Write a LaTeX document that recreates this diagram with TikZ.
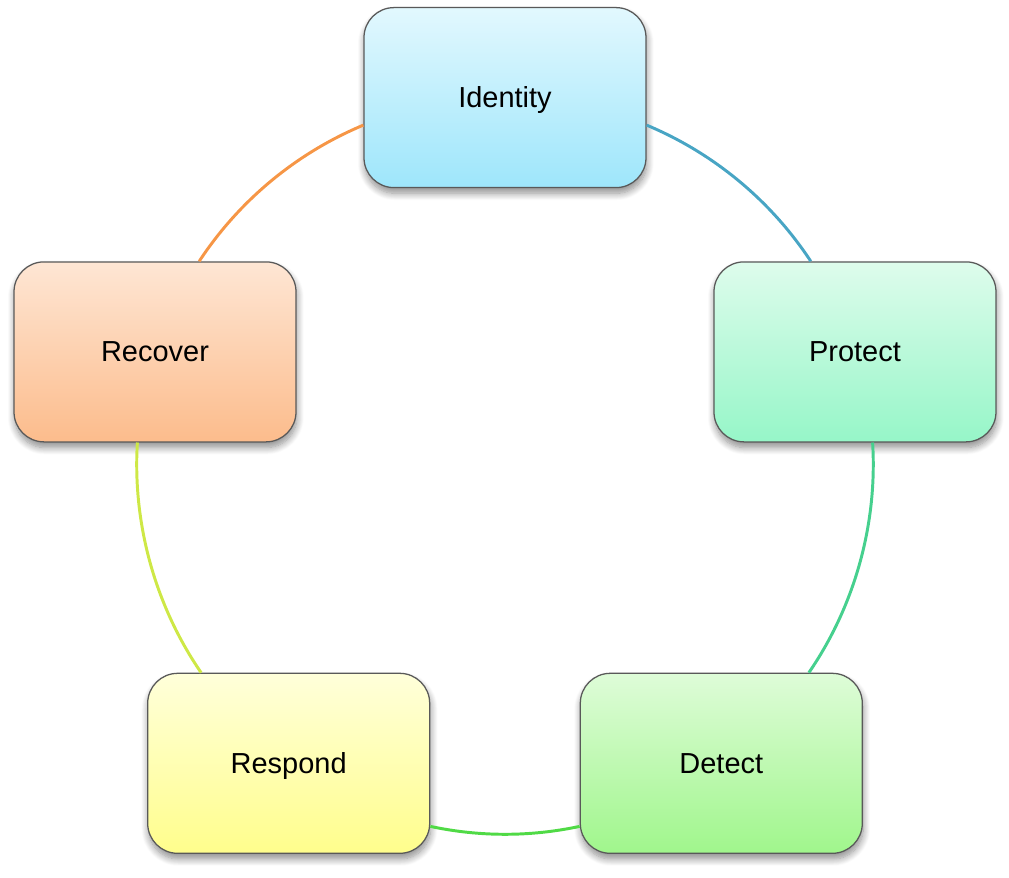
\documentclass[tikz,border=0pt]{standalone}
\usepackage{fontspec}
\setmainfont{Liberation Sans}
\usetikzlibrary{shadows.blur}
\definecolor{idtop}{RGB}{226,248,254}
\definecolor{idbot}{RGB}{158,230,251}
\definecolor{prtop}{RGB}{222,252,236}
\definecolor{prbot}{RGB}{150,246,200}
\definecolor{detop}{RGB}{222,252,216}
\definecolor{debot}{RGB}{160,246,140}
\definecolor{retop}{RGB}{255,255,218}
\definecolor{rebot}{RGB}{255,254,140}
\definecolor{rctop}{RGB}{254,230,212}
\definecolor{rcbot}{RGB}{252,188,140}
\definecolor{linkA}{RGB}{72,165,196}
\definecolor{linkB}{RGB}{70,208,142}
\definecolor{linkC}{RGB}{80,218,70}
\definecolor{linkD}{RGB}{206,232,70}
\definecolor{linkE}{RGB}{246,150,70}
\tikzstyle{phase} = [rectangle, rounded corners=0.75cm, minimum width=7.05cm, minimum height=4.5cm, text height=0.55cm, text depth=0.05cm, text centered, draw=black!65, line width=0.9pt, blur shadow={shadow xshift=0.6pt, shadow yshift=-4pt, shadow blur steps=10, shadow blur radius=5pt, shadow opacity=45}, font=\fontsize{20.6}{24}\selectfont]
\tikzstyle{link} = [line width=2.1pt, looseness=0.87]

\begin{document}
\begin{tikzpicture}
        \useasboundingbox (-12.625,-10.285) rectangle (12.6,11.64);
        \coordinate (hub) at (0,0);

        \node[phase, top color=idtop, bottom color=idbot] (identity) at (90:9.2)   {Identity};
        \node[phase, top color=prtop, bottom color=prbot] (protect)  at (18:9.2)   {Protect};
        \node[phase, top color=detop, bottom color=debot] (detect)   at (-54:9.2)  {Detect};
        \node[phase, top color=retop, bottom color=rebot] (respond)  at (-126:9.2) {Respond};
        \node[phase, top color=rctop, bottom color=rcbot] (recover)  at (162:9.2)  {Recover};

        \draw[link, linkA] (identity.-11)  to[bend left=17] (protect.116);
        \draw[link, linkB] (protect.-79)   to[bend left=19] (detect.46);
        \draw[link, linkC] (detect.-156)   to[bend left=12] (respond.-24);
        \draw[link, linkD] (respond.134)   to[bend left=19] (recover.-101);
        \draw[link, linkE] (recover.64)    to[bend left=17] (identity.191);
    \end{tikzpicture}
\end{document}
